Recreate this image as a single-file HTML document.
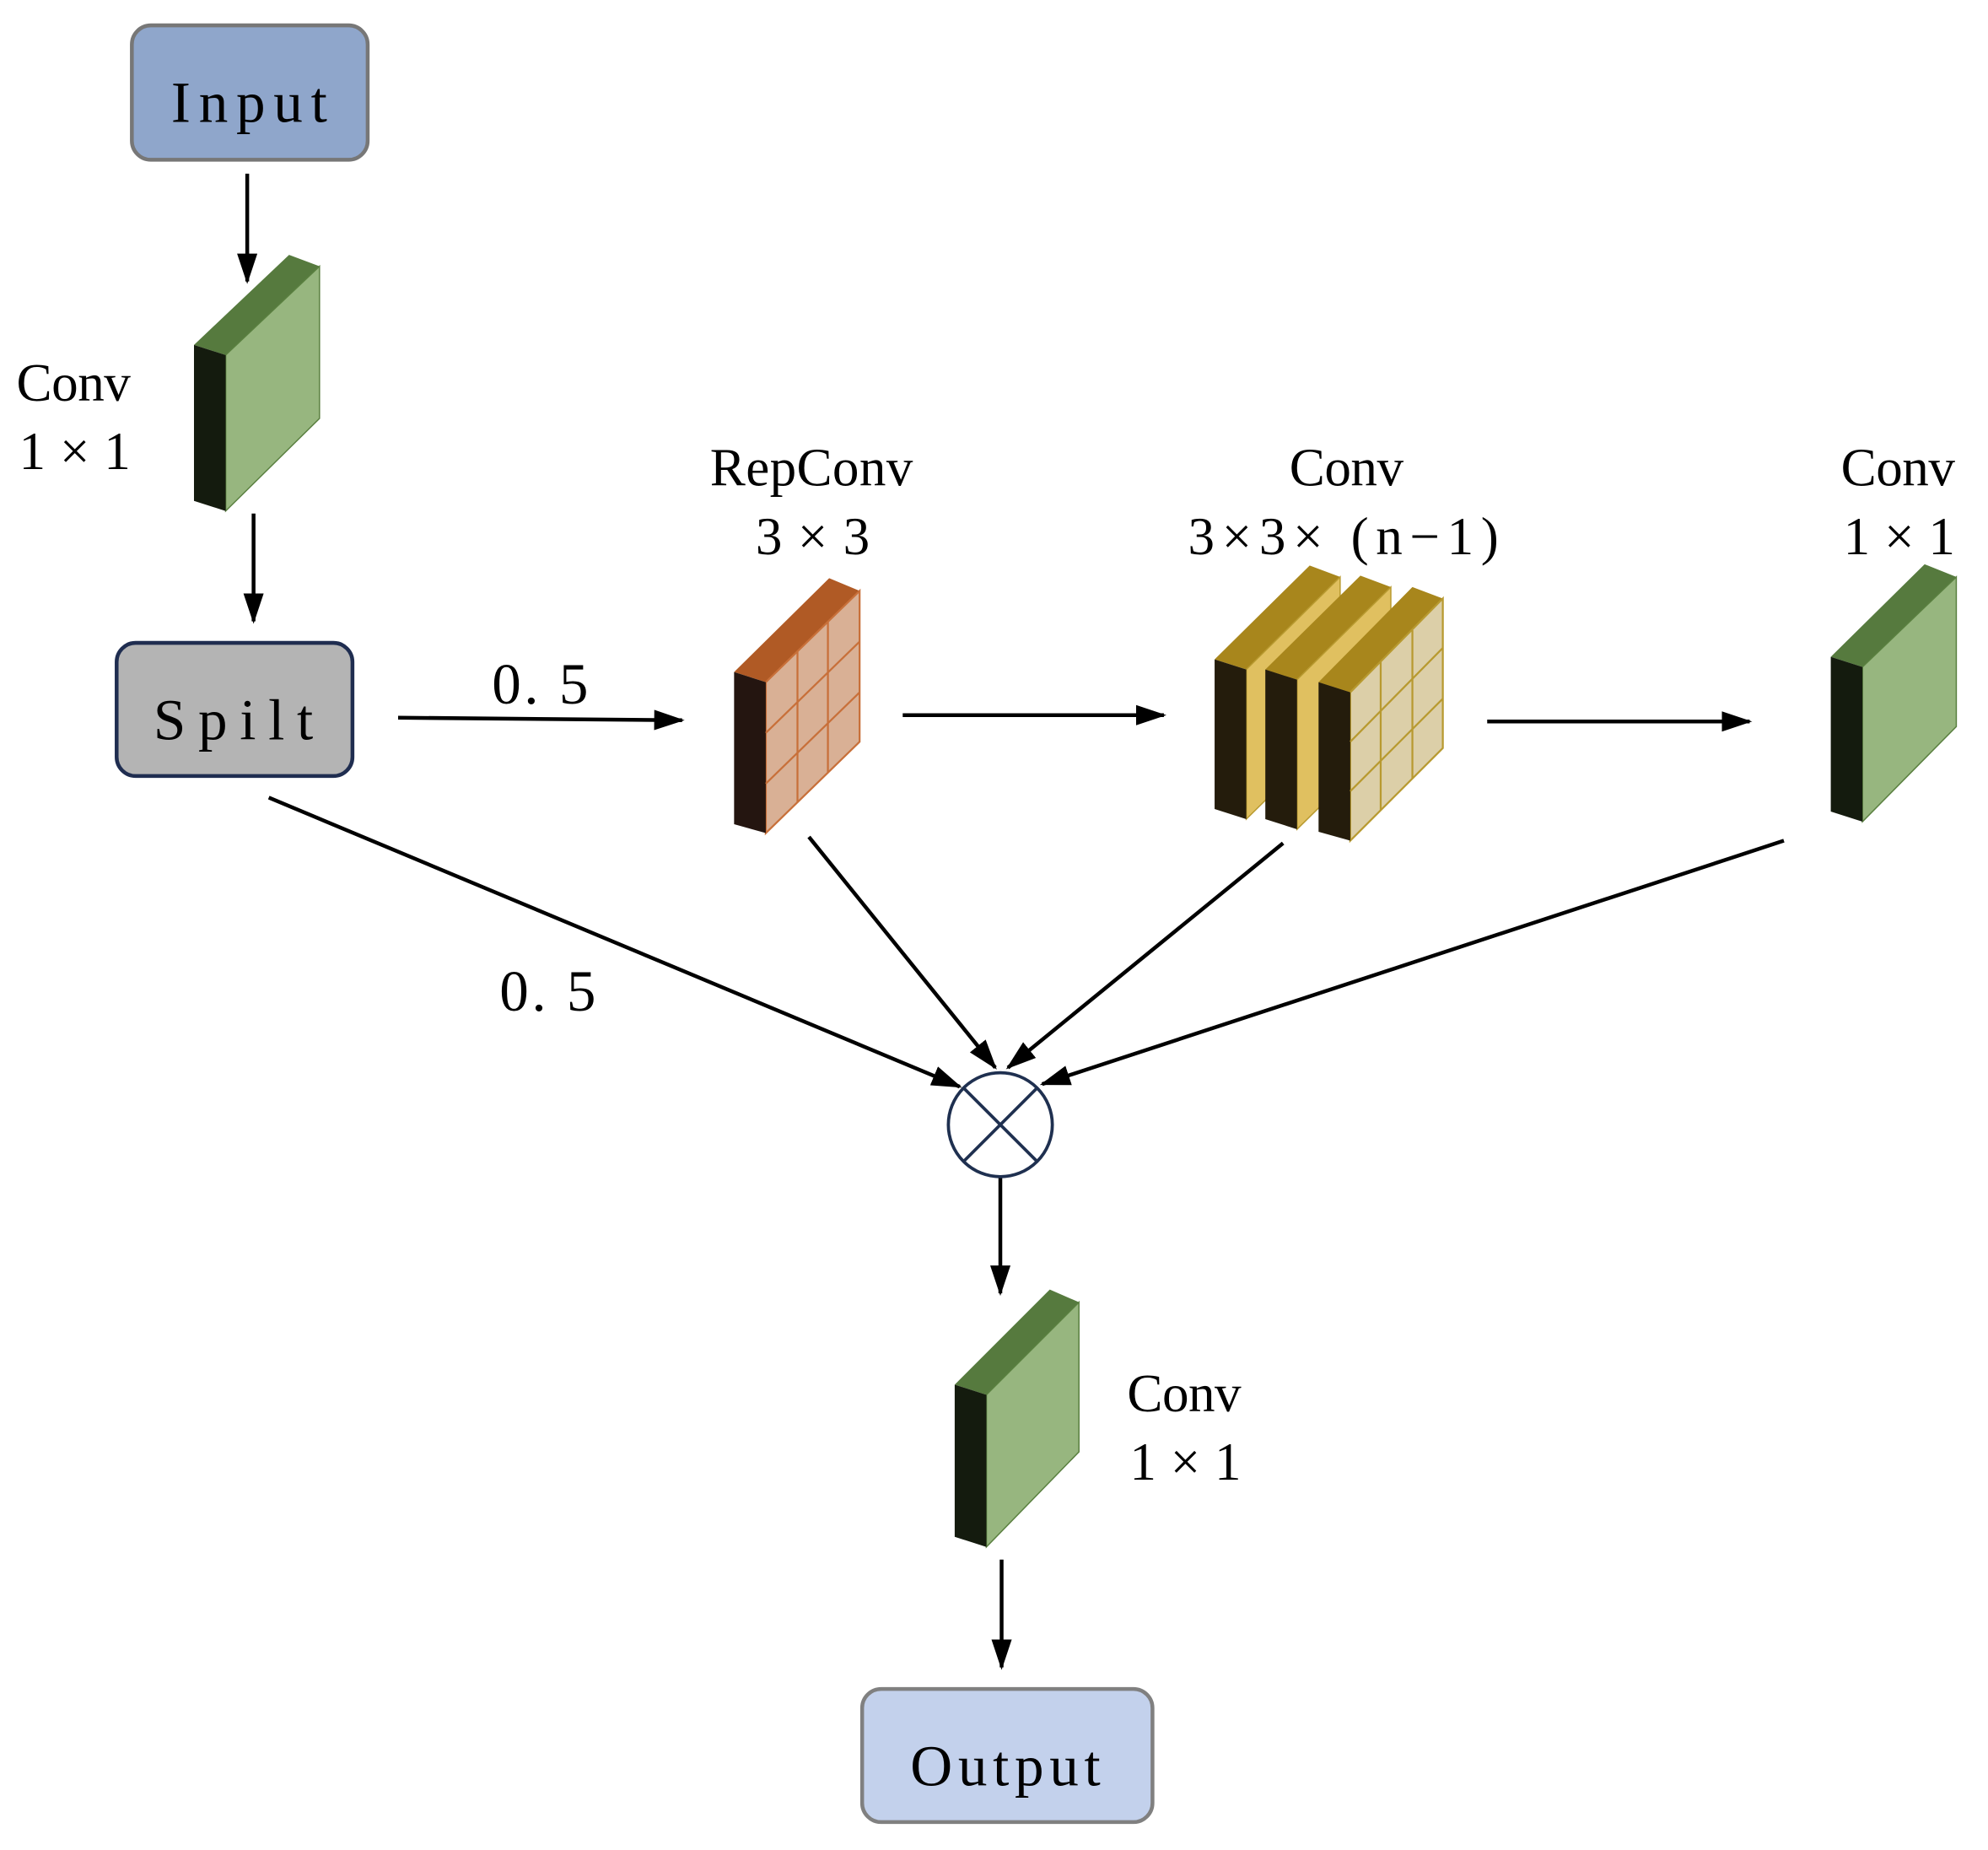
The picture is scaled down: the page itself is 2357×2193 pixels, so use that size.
<!DOCTYPE html>
<html><head><meta charset="utf-8"><style>html,body{margin:0;padding:0;background:#fff}svg{display:block}</style></head>
<body>
<svg width="2357" height="2193" viewBox="0 0 1568 1459" preserveAspectRatio="none" xmlns="http://www.w3.org/2000/svg" font-family="'Liberation Serif','Noto Serif CJK SC',serif">
<defs>
<marker id="a" markerWidth="24" markerHeight="16" refX="22" refY="8" orient="auto" markerUnits="userSpaceOnUse"><path d="M0,0 L24,8 L0,16 z" fill="#000"/></marker>
</defs>
<g stroke="#000" stroke-width="3" marker-end="url(#a)" fill="none">
<line x1="195" y1="137" x2="195" y2="222"/>
<line x1="200" y1="405" x2="200" y2="490"/>
<line x1="314" y1="566" x2="538" y2="568"/>
<line x1="712" y1="564" x2="918" y2="564"/>
<line x1="1173" y1="569" x2="1380" y2="569"/>
<line x1="212" y1="629" x2="757" y2="857"/>
<line x1="638" y1="660" x2="785" y2="842"/>
<line x1="1012" y1="665" x2="795" y2="842"/>
<line x1="1407" y1="663" x2="822" y2="855"/>
<line x1="789" y1="929" x2="789" y2="1020"/>
<line x1="790" y1="1230" x2="790" y2="1315"/>
</g>
<rect x="104" y="20" width="186" height="106" rx="15" fill="#8fa6cb" stroke="#777" stroke-width="3"/>
<text x="135" y="96" font-size="46" textLength="123" lengthAdjust="spacing">Input</text>
<rect x="92" y="507" width="186" height="105" rx="15" fill="#b4b4b4" stroke="#1f2d50" stroke-width="3"/>
<text x="121" y="583" font-size="46" textLength="126" lengthAdjust="spacing">Spilt</text>
<rect x="680" y="1332" width="229" height="105" rx="15" fill="#c3d1ec" stroke="#808080" stroke-width="3"/>
<text x="718" y="1408" font-size="46" textLength="150" lengthAdjust="spacing">Output</text>
<polygon points="153,272 228,201 252,210 178,280" fill="#567a3e"/>
<polygon points="178,280 252,210 252,330 178,403" fill="#97b67f" stroke="#5a8040" stroke-width="1"/>
<polygon points="153,272 178,280 178,403 153,395" fill="#141b0e"/>
<polygon points="1444,518 1518,445 1543,455 1469,526" fill="#567a3e"/>
<polygon points="1469,526 1543,455 1543,573 1469,648" fill="#97b67f" stroke="#5a8040" stroke-width="1"/>
<polygon points="1444,518 1469,526 1469,648 1444,640" fill="#141b0e"/>
<polygon points="753,1092 828,1017 851,1027 778,1100" fill="#567a3e"/>
<polygon points="778,1100 851,1027 851,1145 778,1220" fill="#97b67f" stroke="#5a8040" stroke-width="1"/>
<polygon points="753,1092 778,1100 778,1220 753,1212" fill="#141b0e"/>
<polygon points="579,530 654,456 678,466 604,538" fill="#b05a25"/>
<polygon points="604,538 678,466 678,585 604,657" fill="#d9b095" stroke="#c8703a" stroke-width="1.5"/>
<polygon points="579,530 604,538 604,657 579,650" fill="#241510"/>
<g stroke="#c8703a" stroke-width="1.5">
<line x1="629" y1="514" x2="629" y2="633"/><line x1="653" y1="490" x2="653" y2="609"/>
<line x1="604" y1="578" x2="678" y2="506"/><line x1="604" y1="618" x2="678" y2="546"/>
</g>
<polygon points="958,520 1033,446 1057,455 983,528" fill="#a8861c"/>
<polygon points="983,528 1057,455 1057,573 983,646" fill="#e0c060" stroke="#b89a30"/>
<polygon points="958,520 983,528 983,646 958,638" fill="#241c0c"/>
<polygon points="998,528 1073,454 1097,463 1023,536" fill="#a8861c"/>
<polygon points="1023,536 1097,463 1097,581 1023,654" fill="#e0c060" stroke="#b89a30"/>
<polygon points="998,528 1023,536 1023,654 998,646" fill="#241c0c"/>
<polygon points="1040,538 1114,463 1138,472 1065,546" fill="#a8861c"/>
<polygon points="1065,546 1138,472 1138,590 1065,663" fill="#dccfa8" stroke="#b89a30" stroke-width="1.5"/>
<polygon points="1040,538 1065,546 1065,663 1040,656" fill="#241c0c"/>
<g stroke="#b89a30" stroke-width="1.5">
<line x1="1089" y1="522" x2="1089" y2="639"/><line x1="1114" y1="497" x2="1114" y2="614"/>
<line x1="1065" y1="585" x2="1138" y2="511"/><line x1="1065" y1="624" x2="1138" y2="551"/>
</g>
<circle cx="789" cy="887" r="41" fill="#fff" stroke="#1f3050" stroke-width="2.5"/>
<line x1="760" y1="858" x2="818" y2="916" stroke="#1f3050" stroke-width="2.5"/>
<line x1="818" y1="858" x2="760" y2="916" stroke="#1f3050" stroke-width="2.5"/>
<g font-size="42" lengthAdjust="spacingAndGlyphs">
<text x="13" y="316" textLength="90">Conv</text><text x="15" y="370" textLength="88">1×1</text>
<text x="560" y="383" textLength="160">RepConv</text><text x="596" y="437" textLength="90">3×3</text>
<text x="1017" y="383" textLength="90">Conv</text><text x="937" y="437" textLength="245">3×3× (n−1)</text>
<text x="1452" y="383" textLength="90">Conv</text><text x="1454" y="437" textLength="88">1×1</text>
<text x="889" y="1113" textLength="90">Conv</text><text x="891" y="1167" textLength="88">1×1</text>
<text x="388" y="555" font-size="46" textLength="76">0. 5</text>
<text x="394" y="797" font-size="46" textLength="76">0. 5</text>
</g>
</svg>
</body></html>
